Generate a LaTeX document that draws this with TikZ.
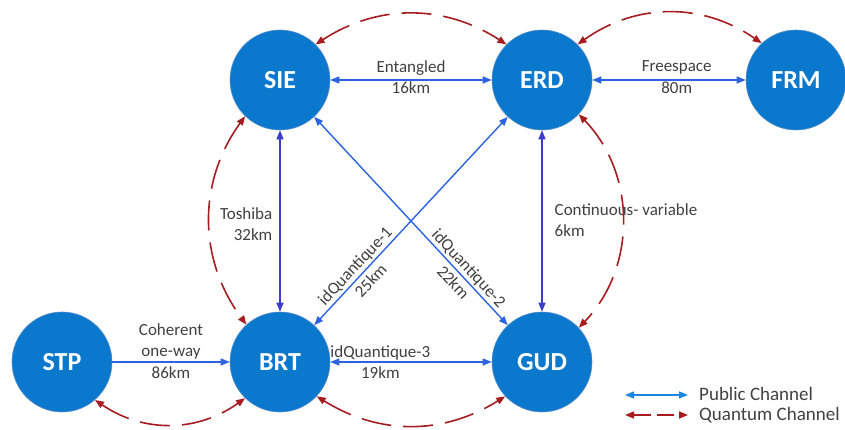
\documentclass[tikz,border=0pt]{standalone}
\usepackage{fontspec}
\setmainfont{Carlito}
\usetikzlibrary{arrows.meta}
\definecolor{nodeblue}{RGB}{10,120,205}
\definecolor{nodeedge}{RGB}{90,140,200}
\definecolor{pubblue}{RGB}{43,99,224}
\definecolor{vertblue}{RGB}{58,62,200}
\definecolor{legblue}{RGB}{28,134,224}
\definecolor{qred}{RGB}{166,28,32}
\definecolor{lblgray}{RGB}{64,64,64}
\tikzset{
  site/.style={circle, fill=nodeblue, draw=nodeedge, line width=0.6pt, minimum size=100pt, inner sep=0pt,
    text=white, font=\fontsize{26}{30}\selectfont\bfseries},
  pub/.style={draw=pubblue, line width=1.4pt, {Triangle[length=9pt,width=7pt]}-{Triangle[length=9pt,width=7pt]}},
  pubv/.style={pub, draw=vertblue},
  pubone/.style={draw=pubblue, line width=1.4pt, -{Triangle[length=9pt,width=7pt]}},
  quant/.style={draw=qred, line width=1.6pt, dash pattern=on 30pt off 12pt, {Triangle[length=9pt,width=7pt]}-{Triangle[length=9pt,width=7pt]}},
  lbl/.style={text=lblgray, font=\fontsize{17}{21.5}\selectfont, inner sep=2pt},
  leglbl/.style={lbl, font=\fontsize{19}{22}\selectfont},
}
\begin{document}
\begin{tikzpicture}[x=1pt,y=1pt]
\useasboundingbox (0,0) rectangle (845,430);
% sites
\node[site] (SIE) at (280,350) {SIE};
\node[site] (ERD) at (542,350) {ERD};
\node[site] (FRM) at (796,350) {FRM};
\node[site] (STP) at (62,68) {STP};
\node[site] (BRT) at (280,68) {BRT};
\node[site] (GUD) at (542,68) {GUD};
% public channels
\draw[pub] (SIE) -- node[lbl, align=center, yshift=3pt] {Entangled\\16km} (ERD);
\draw[pub] (ERD) -- node[lbl, align=center, pos=0.55, yshift=3pt] {Freespace\\80m} (FRM);
\draw[pubv] (SIE) -- node[lbl, align=right, left=5pt, yshift=-3pt] {Toshiba\\32km} (BRT);
\draw[pubv] (ERD) -- node[lbl, align=left, right=10pt, yshift=1pt] {Continuous- variable\\6km} (GUD);
\draw[pubone] (STP) -- node[lbl, align=center, yshift=11pt] {Coherent\\one-way\\86km} (BRT);
\draw[pub] (BRT) -- node[lbl, align=center, pos=0.31] {idQuantique-3\\19km} (GUD);
\draw[pub] (BRT) -- node[lbl, align=center, sloped, pos=0.25] {idQuantique-1\\25km} (ERD);
\draw[pub] (SIE) -- node[lbl, align=center, sloped, pos=0.76] {idQuantique-2\\22km} (GUD);
% quantum channels
\draw[quant] (SIE.45) to[bend left=33] (ERD.135);
\draw[quant] (ERD.45) to[bend left=35] (FRM.133);
\draw[quant] (SIE.226) to[bend right=36] (BRT.132);
\draw[quant] (ERD.317) to[bend left=44] (GUD.43);
\draw[quant] (STP.311) to[bend right=35] (BRT.226);
\draw[quant] (BRT.317) to[bend right=32] (GUD.223);
% legend
\coordinate (pa) at (625,35);
\coordinate (pb) at (688,35);
\coordinate (qa) at (625,15);
\coordinate (qb) at (688,15);
\draw[draw=legblue, line width=1.4pt, {Triangle[length=9pt,width=7pt]}-{Triangle[length=9pt,width=7pt]}] (pa) -- (pb);
\draw[quant, dash pattern=on 17pt off 6pt] (qa) -- (qb);
\node[leglbl, anchor=west] (pl) at (697,36) {Public Channel};
\node[leglbl, anchor=west] (ql) at (697,15) {Quantum Channel};
\end{tikzpicture}
\end{document}
